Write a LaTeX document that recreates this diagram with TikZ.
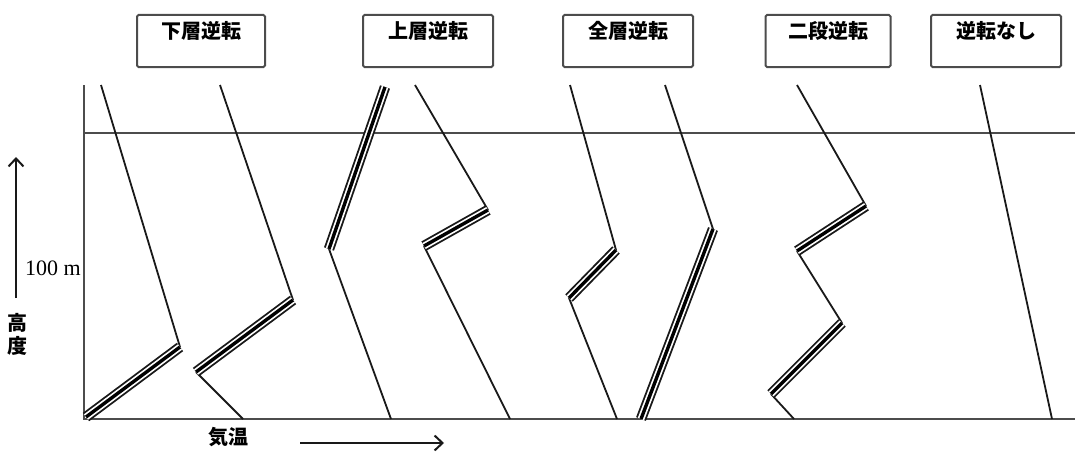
\documentclass[tikz,border=0pt]{standalone}
\usepackage{fontspec}
\setmainfont{Liberation Serif}
\newfontfamily\cjk{Noto Sans CJK JP}
\usetikzlibrary{arrows.meta}
\begin{document}
\begin{tikzpicture}[x=1pt,y=-1pt,
  profile/.style={draw=black!90, line width=1.8pt},
  axisline/.style={draw=black!70, line width=2.4pt},
  triple/.style={draw=black, line width=3.4pt,
    preaction={draw=black!90, line width=10.5pt},
    preaction={draw=white, line width=6.8pt}},
  lbl/.style={draw=black!70, line width=2pt, rounded corners=1.5pt, anchor=north,
    minimum height=52pt, inner sep=4pt, text height=20pt, text depth=24pt,
    font=\cjk\bfseries\fontsize{20}{20}\selectfont},
  arr/.style={draw=black!90, line width=2pt, -{Straight Barb[length=8pt,width=15pt,line width=2pt]}},
  cjktext/.style={font=\cjk\bfseries\fontsize{20}{23}\selectfont, align=center, inner sep=0pt},
]
\useasboundingbox (0,0) rectangle (1075,452);

% label boxes
\node[lbl, minimum width=128pt] (lab1) at (201,14) {下層逆転};
\node[lbl, minimum width=130pt] (lab2) at (428,14) {上層逆転};
\node[lbl, minimum width=130pt] (lab3) at (628,14) {全層逆転};
\node[lbl, minimum width=125pt] (lab4) at (828,14) {二段逆転};
\node[lbl, minimum width=130pt] (lab5) at (996,14) {逆転なし};

% axes
\coordinate (o) at (84,419);
\coordinate (ytop) at (84,85);
\coordinate (xend) at (1075,419);
\coordinate (hl0) at (84,133);
\coordinate (hl1) at (1075,133);
\draw[axisline] (ytop) -- (o) -- (xend);
\draw[axisline] (hl0) -- (hl1);

% axis arrows and labels
\coordinate (va0) at (16,298);
\coordinate (va1) at (16,157);
\draw[arr] (va0) -- (va1);
\node[font=\fontsize{22}{22}\selectfont, inner sep=0pt] (h100) at (53,268) {100 m};
\node[cjktext] (hd) at (17,334) {高\\度};
\node[cjktext] (kion) at (228,437) {気温};
\coordinate (ha0) at (300,443);
\coordinate (ha1) at (444,443);
\draw[arr] (ha0) -- (ha1);

% profile 1
\coordinate (a1) at (101,85);
\coordinate (a2) at (180,347);
\coordinate (a3) at (86,417);
\draw[profile] (a1) -- (a2);
\draw[triple] (a2) -- (a3);
% profile 2
\coordinate (b1) at (220,85);
\coordinate (b2) at (293,300);
\coordinate (b3) at (196,372);
\coordinate (b4) at (243,419);
\draw[profile] (b1) -- (b2);
\draw[profile] (b3) -- (b4);
\draw[triple] (b2) -- (b3);
% profile 3
\coordinate (c1) at (385,87);
\coordinate (c2) at (329,249);
\coordinate (c3) at (391,419);
\draw[profile] (c2) -- (c3);
\draw[triple] (c1) -- (c2);
% profile 4
\coordinate (d1) at (415,85);
\coordinate (d2) at (488,210);
\coordinate (d3) at (424,246);
\coordinate (d4) at (510,419);
\draw[profile] (d1) -- (d2);
\draw[profile] (d3) -- (d4);
\draw[triple] (d2) -- (d3);
% profile 5
\coordinate (e1) at (570,85);
\coordinate (e2) at (616,250);
\coordinate (e3) at (569,298);
\coordinate (e4) at (617,419);
\draw[profile] (e1) -- (e2);
\draw[profile] (e3) -- (e4);
\draw[triple] (e2) -- (e3);
% profile 6
\coordinate (f1) at (665,85);
\coordinate (f2) at (713,229);
\coordinate (f3) at (641,419);
\draw[profile] (f1) -- (f2);
\draw[triple] (f2) -- (f3);
% profile 7
\coordinate (g1) at (797,85);
\coordinate (g2) at (866,206);
\coordinate (g3) at (797,251);
\coordinate (g4) at (842,323);
\coordinate (g5) at (771,394);
\coordinate (g6) at (794,419);
\draw[profile] (g1) -- (g2);
\draw[profile] (g3) -- (g4);
\draw[profile] (g5) -- (g6);
\draw[triple] (g2) -- (g3);
\draw[triple] (g4) -- (g5);
% profile 8
\coordinate (h1) at (980,85);
\coordinate (h2) at (1052,419);
\draw[profile] (h1) -- (h2);
\end{tikzpicture}
\end{document}
